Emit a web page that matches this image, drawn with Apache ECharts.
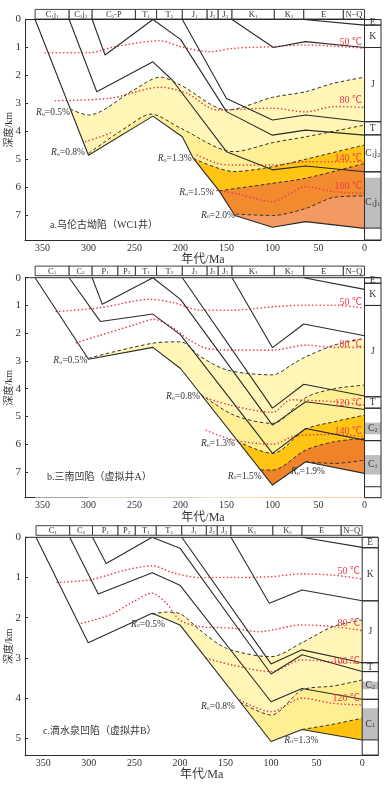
<!DOCTYPE html>
<html><head><meta charset="utf-8">
<script src="https://cdn.jsdelivr.net/npm/echarts@6/dist/echarts.min.js"></script>
<style>html,body{margin:0;padding:0;background:#fff}#c{width:388px;height:785px}</style>
</head><body><div id="c"></div>
<script>
const SERIF = "'Liberation Serif','Times New Roman','Noto Sans CJK SC',serif";
const MIX = "'Liberation Serif','Noto Sans CJK SC',serif";

// ---------- shared ticks ----------
const ageTicks = [0, 50, 100, 150, 200, 250, 300, 350];
const depthTicks8 = [0, 1, 2, 3, 4, 5, 6, 7];
const depthTicks5 = [0, 1, 2, 3, 4, 5];

// ---------- panel a : 乌伦古坳陷 WC1 ----------
const aStageNames = ['C_1j_1','C_1j_2','C_2-P','T_1','T_2','J_1','J_2','J_3','K_1','K_2','E','N−Q'];
const aStageAges = [358,321,296,249,226,198,171,159,144,98,66,23,0];
const aBurA = [[358,0],[300,4.85],[230,3.45],[198,4.19],[186,4.96],[158,6.12],[141,7.0],[100,7.42],[64,7.22],[0,7.46]];
const aBurB = [[321,0],[291,2.58],[230,1.51],[209,2.16],[150,4.72],[100,5.37],[64,5.23],[0,5.44]];
const aBurC = [[296,0],[282,1.27],[230,0]];
const aBurT = [[230,0],[200,0.71],[150,3.29],[100,4.13],[64,3.95],[0,4.13]];
const aBurJ = [[198,0],[150,2.82],[100,3.59],[64,3.41],[0,3.65]];
const aBurK = [[144,0],[99,1.0],[64,0.79],[0,1.0]];
const aBurE = [[66,0],[0,0.2]];
const aRo05 = [[320,3.2],[300,3.41],[251,2.52],[222,2.06],[200,2.34],[149,3.23],[100,2.78],[64,2.58],[34,2.28],[0,2.06]];
const aRo08 = [[300,4.78],[258,3.83],[232,3.38],[200,3.88],[142,4.72],[100,4.4],[64,4.19],[0,3.77]];
const aRo13 = [[186,4.96],[142,5.43],[100,5.26],[64,4.99],[0,4.48]];
const aRo15 = [[158,6.12],[100,5.85],[64,5.67],[0,5.14]];
const aRo20 = [[140,6.95],[100,7.0],[64,6.75],[33,6.35],[0,6.3]];
const aIso50 = [[347,1.19],[300,1.19],[271,0.97],[222,0.76],[200,0.97],[168,1.15],[143,1.03],[100,0.97],[64,0.91],[0,1.03]];
const aIso80 = [[336,2.9],[276,2.81],[222,2.42],[193,2.64],[160,3.23],[100,3.17],[64,3.3],[33,3.11],[0,3.14]];
const aIso120 = [[303,4.36],[287,4.19],[276,4.05]];
const aIso140 = [[182,4.84],[160,5.14],[142,5.2],[100,5.2],[64,5.08],[33,5.08],[0,5.08]];
const aIso160 = [[164,6.09],[142,6.2],[100,6.5],[64,5.97],[33,6.15],[0,6.2]];
const aRoLabels = ['0.5%','0.8%','1.3%','1.5%','2.0%'];
const aIsoLabels = ['50 ℃','80 ℃','140 ℃','160 ℃'];
const aColNames = ['E','K','J','T','C_1j_2','C_1j_1'];
const aColTop = [0,0.2,1.0,3.65,4.12,5.44];
const aColBot = [0.2,1.0,3.65,4.12,5.44,7.45];
const aColGrayTop = [null,null,null,null,null,5.65];
const aColGrayBot = [null,null,null,null,null,7.45];

// ---------- panel b : 三南凹陷 虚拟井A ----------
const bStageNames = ['C_1','C_2','P_1','P_2','T_1','T_2','J_1','J_2','J_3','K_1','K_2','E','N−Q'];
const bStageAges = [358,321,296,268,249,226,198,171,159,144,98,66,23,0];
const bBurA = [[358,0],[300,2.94],[230,2.51],[200,3.27],[100,7.47],[64,6.63],[0,7.05]];
const bBurB = [[321,0],[287,1.58],[230,1.31],[200,2.06],[100,6.33],[64,5.43],[0,5.85]];
const bBurC = [[296,0],[285,0.96],[230,0]];
const bBurT = [[230,0],[200,0.78],[100,5.31],[64,4.47],[0,4.75]];
const bBurJ = [[198,0],[100,4.7],[66,3.84],[0,4.26]];
const bBurK = [[144,0],[100,2.52],[66,1.67],[0,2.09]];
const bBurE = [[66,0],[0,0.42]];
const bRo05 = [[300,2.9],[230,2.36],[200,2.31],[178,2.85],[149,3.33],[100,3.5],[77,3.09],[64,2.85],[33,2.43],[0,2.18]];
const bRo08 = [[178,4.2],[142,4.95],[100,5.25],[64,4.32],[33,4.0],[0,3.87]];
const bRo13 = [[138,5.9],[100,6.33],[64,5.46],[33,5.19],[0,4.95]];
const bRo15 = [[113,6.92],[100,6.93],[64,6.21],[33,5.91],[0,5.79]];
const bRo19 = [[64,6.63],[33,6.69],[0,6.57]];
const bIso50 = [[335,1.22],[287,1.08],[233,0.78],[208,0.9],[178,1.17],[142,1.17],[100,1.05],[64,0.99],[33,0.99],[0,1.1]];
const bIso80 = [[313,2.34],[287,2.07],[251,1.71],[229,1.5],[207,1.83],[193,2.19],[171,2.55],[142,2.61],[100,2.61],[64,2.43],[33,2.51],[0,2.51]];
const bIso120 = [[175,4.3],[146,4.59],[100,4.85],[80,4.4],[33,4.47],[0,4.59]];
const bIso140 = [[172,5.5],[142,5.85],[100,6.0],[75,5.7],[33,5.65],[0,5.72]];
const bRoLabels = ['0.5%','0.8%','1.3%','1.5%','1.9%'];
const bIsoLabels = ['50 ℃','80 ℃','120 ℃','140 ℃'];
const bColNames = ['E','K','J','T','C_2','C_1'];
const bColTop = [0,0.2,1.0,4.29,4.7,5.87];
const bColBot = [0.2,1.0,4.29,4.7,5.87,7.53];
const bColGrayTop = [null,null,null,null,5.22,6.39];
const bColGrayBot = [null,null,null,null,5.64,7.09];

// ---------- panel c : 滴水泉凹陷 虚拟井B ----------
const cStageNames = bStageNames;
const cStageAges = [358,321,296,268,249,226,198,171,159,144,98,66,23,0];
const cBurA = [[358,0],[300.7,2.62],[230.5,1.89],[200,2.18],[100,5.08],[66,4.78],[0,5.04]];
const cBurB = [[321,0],[289.7,1.41],[230.5,0.88],[200,1.19],[100,4.09],[66,3.76],[0,4.03]];
const cBurC = [[296,0],[281,0.65],[230.5,0]];
const cBurT = [[230.5,0],[200,0.27],[100,3.4],[66,2.92],[0,3.34]];
const cBurJ = [[198,0],[100,3.15],[66,2.8],[0,3.12]];
const cBurK = [[144,0],[102,1.64],[66,1.31],[0,1.58]];
const cBurE = [[66,0],[0,0.25]];
const cRo05 = [[230.5,1.91],[215,1.86],[200,1.9],[178,2.31],[149,2.76],[100,2.97],[66,2.62],[32,2.22],[0,2.06]];
const cRo08 = [[134,4.1],[100,4.42],[66,3.8],[32,3.7],[0,3.55]];
const cRo13 = [[66,4.78],[32,4.65],[0,4.5]];
const cIso50 = [[335,1.12],[299,1.06],[259,0.81],[230,0.71],[208,0.88],[178,1.0],[142,1.0],[100,0.98],[66,0.91],[32,0.94],[0,1.04]];
const cIso80 = [[308,2.14],[277,1.93],[251,1.6],[231,1.39],[215,1.64],[200,2.06],[178,2.22],[142,2.26],[113,2.35],[100,2.31],[66,2.18],[32,2.22],[0,2.32]];
const cIso100 = [[171,3.01],[142,3.18],[100,3.34],[66,3.05],[32,3.1],[0,3.13]];
const cIso120 = [[134,4.05],[100,4.34],[66,4.0],[32,4.13],[0,4.17]];
const cRoLabels = ['0.5%','0.8%','1.3%'];
const cIsoLabels = ['50 ℃','80 ℃','100 ℃','120 ℃'];
const cColNames = ['E','K','J','T','C_2','C_1'];
const cColTop = [0,0.26,1.58,3.12,3.34,4.03];
const cColBot = [0.26,1.58,3.12,3.34,4.03,5.04];
const cColGrayTop = [null,null,null,null,3.59,4.25];
const cColGrayBot = [null,null,null,null,3.78,5.04];

const panelTitles = ['a.乌伦古坳陷（WC1井）','b.三南凹陷（虚拟井A）','c.滴水泉凹陷（虚拟井B）'];

// ---------- layout ----------
const P = [
  {top:19.5, h:220.5, right:7, xmin:-17.9, xmax:369.0, ymax:7.875, gap:0.5, ticks:depthTicks8, nameGap:9},
  {top:277.7, h:220, right:7, xmin:-17.9, xmax:369.0, ymax:7.925, gap:2, ticks:depthTicks8, nameGap:12},
  {top:537.3, h:217.7, right:9.7, xmin:-17.7, xmax:370.1, ymax:5.415, gap:2, ticks:depthTicks5, nameGap:14}
];
const INK = '#2b2b2b';
const RED = '#EE3A4C';

function sub(s, cls) {
  cls = cls || 'n';
  let out = '';
  for (let i = 0; i < s.length; i++) {
    if (s[i] === '_') { out += '{s|' + s[i+1] + '}'; i++; }
    else out += '{' + cls + '|' + s[i] + '}';
  }
  return out;
}
function richSet(size) {
  return {
    n: {fontSize: size, fontFamily: SERIF, fill: '#333', color: '#333'},
    i: {fontSize: size, fontFamily: SERIF, fontStyle: 'italic', fill: '#333', color: '#333'},
    s: {fontSize: Math.round(size * 0.62), fontFamily: SERIF, fill: '#333', color: '#333', verticalAlign: 'bottom'}
  };
}

const grids = [], xAxes = [], yAxes = [], series = [];
P.forEach((p, k) => {
  grids.push({left: 25, right: p.right, top: p.top, height: p.h, containLabel: false, outerBoundsMode: 'none'});
  xAxes.push({
    gridIndex: k, type: 'value', inverse: true, min: p.xmin, max: p.xmax, position: 'bottom',
    axisLine: {show: true, onZero: false, lineStyle: {color: INK, width: 1}},
    axisTick: {show: true, inside: true, length: 3, customValues: ageTicks, lineStyle: {color: INK}},
    axisLabel: {customValues: ageTicks, fontSize: 10, fontFamily: SERIF, color: '#333', margin: 3},
    splitLine: {show: false},
    name: '年代/Ma', nameLocation: 'middle', nameGap: p.nameGap,
    nameTextStyle: {fontSize: 12, fontFamily: MIX, color: '#333'}
  });
  yAxes.push({
    gridIndex: k, type: 'value', inverse: true, min: 0, max: p.ymax, position: 'left',
    axisLine: {show: true, onZero: false, lineStyle: {color: INK, width: 1}},
    axisTick: {show: true, inside: true, length: 3, customValues: p.ticks, lineStyle: {color: INK}},
    axisLabel: {customValues: p.ticks, fontSize: 11, fontFamily: SERIF, color: '#333', margin: 4},
    splitLine: {show: false},
    name: '深度/km', nameLocation: 'middle', nameGap: 11, nameRotate: 90, nameMoveOverlap: false,
    nameTextStyle: {fontSize: 10, fontFamily: MIX, color: '#333'}
  });
});

function fill(k, data, color) {
  series.push({type: 'line', xAxisIndex: k, yAxisIndex: k, data, symbol: 'none', silent: true, smooth: 0.3,
    lineStyle: {width: 0, opacity: 0}, areaStyle: {color, opacity: 1, origin: 'end'}});
}
function cover(k, data) {
  series.push({type: 'line', xAxisIndex: k, yAxisIndex: k, data, symbol: 'none', silent: true,
    lineStyle: {width: 0, opacity: 0}, areaStyle: {color: '#fff', opacity: 1, origin: 'end'}});
}
function iso(k, data) {
  series.push({type: 'line', xAxisIndex: k, yAxisIndex: k, data, symbol: 'none', silent: true, smooth: 0.3,
    lineStyle: {color: RED, width: 1.6, type: [0.1, 3.6], cap: 'round'}});
}
function ro(k, data) {
  series.push({type: 'line', xAxisIndex: k, yAxisIndex: k, data, symbol: 'none', silent: true, smooth: 0.3,
    lineStyle: {color: '#333', width: 1, type: [3.5, 2.5]}});
}
function bur(k, data) {
  series.push({type: 'line', xAxisIndex: k, yAxisIndex: k, data, symbol: 'none', silent: true,
    lineStyle: {color: INK, width: 1.1}});
}
function header(k, names, ages) {
  const p = P[k];
  series.push({type: 'custom', xAxisIndex: k, yAxisIndex: k, clip: false, silent: true, z: 5,
    data: [[0, 0]],
    renderItem: function (params, api) {
      const ch = [];
      const y0 = api.coord([0, 0])[1];
      const xl = api.coord([p.xmax, 0])[0];
      const xz = api.coord([0, 0])[0];
      ch.push({type: 'line', shape: {x1: xl, y1: y0, x2: xz, y2: y0}, style: {stroke: INK, lineWidth: 1}});
      const hh = 9.6, yb = y0 - p.gap;
      for (let i = 0; i < names.length; i++) {
        const x1 = api.coord([ages[i], 0])[0], x2 = api.coord([ages[i+1], 0])[0];
        ch.push({type: 'rect', shape: {x: x1, y: yb - hh, width: x2 - x1, height: hh},
          style: {fill: '#fff', stroke: INK, lineWidth: 0.9}});
        ch.push({type: 'text', x: (x1 + x2) / 2, y: yb - hh / 2 + 0.5,
          style: {text: sub(names[i]), rich: richSet(8.5), align: 'center', verticalAlign: 'middle',
            textAlign: 'center', textVerticalAlign: 'middle'}});
      }
      return {type: 'group', children: ch};
    }});
}
function column(k, names, tops, bots, gtops, gbots) {
  const p = P[k];
  series.push({type: 'custom', xAxisIndex: k, yAxisIndex: k, clip: false, silent: true, z: 5,
    data: [[0, 0]],
    renderItem: function (params, api) {
      const ch = [];
      const x0 = api.coord([0, 0])[0], x1 = api.coord([p.xmin, 0])[0];
      const y0 = api.coord([0, 0])[1], yb = api.coord([0, p.ymax])[1];
      ch.push({type: 'rect', shape: {x: x0, y: y0, width: x1 - x0, height: yb - y0}, style: {fill: '#fff', stroke: null}});
      for (let i = 0; i < names.length; i++) {
        if (gtops[i] != null) {
          const g1 = api.coord([0, gtops[i]])[1], g2 = api.coord([0, gbots[i]])[1];
          ch.push({type: 'rect', shape: {x: x0, y: g1, width: x1 - x0, height: g2 - g1}, style: {fill: '#BEBEBE'}});
        }
      }
      for (let i = 0; i < names.length; i++) {
        [tops[i], bots[i]].forEach(d => {
          const yy = api.coord([0, d])[1];
          ch.push({type: 'line', shape: {x1: x0, y1: yy, x2: x1, y2: yy}, style: {stroke: INK, lineWidth: 1}});
        });
        const mid = gtops[i] != null ? (gtops[i] + gbots[i]) / 2 : (tops[i] + bots[i]) / 2;
        const ym = api.coord([0, mid])[1];
        ch.push({type: 'text', x: (x0 + x1) / 2, y: ym,
          style: {text: sub(names[i]), rich: richSet(9.5), align: 'center', verticalAlign: 'middle',
            textAlign: 'center', textVerticalAlign: 'middle'}});
      }
      ch.push({type: 'rect', shape: {x: x0, y: y0, width: x1 - x0, height: yb - y0}, style: {fill: null, stroke: INK, lineWidth: 1}});
      return {type: 'group', children: ch};
    }});
}

// panel a
[[aRo05,'#FFF6B8'],[aRo08,'#FFEF94'],[aRo13,'#FFC414'],[aRo15,'#F28A30'],[aRo20,'#F29A62']].forEach(d => fill(0, d[0], d[1]));
cover(0, aBurA);
[aIso50, aIso80, aIso120, aIso140, aIso160].forEach(d => iso(0, d));
[aRo05, aRo08, aRo13, aRo15, aRo20].forEach(d => ro(0, d));
[aBurA, aBurB, aBurC, aBurT, aBurJ, aBurK, aBurE].forEach(d => bur(0, d));
header(0, aStageNames, aStageAges);
column(0, aColNames, aColTop, aColBot, aColGrayTop, aColGrayBot);

// panel b
[[bRo05,'#FFF6B8'],[bRo08,'#FFEF94'],[bRo13,'#FFC414'],[bRo15,'#F08228'],[bRo19,'#F08A3A']].forEach(d => fill(1, d[0], d[1]));
cover(1, bBurA);
[bIso50, bIso80, bIso120, bIso140].forEach(d => iso(1, d));
[bRo05, bRo08, bRo13, bRo15, bRo19].forEach(d => ro(1, d));
[bBurA, bBurB, bBurC, bBurT, bBurJ, bBurK, bBurE].forEach(d => bur(1, d));
header(1, bStageNames, bStageAges);
column(1, bColNames, bColTop, bColBot, bColGrayTop, bColGrayBot);

// panel c
[[cRo05,'#FFF6B8'],[cRo08,'#FFEF94'],[cRo13,'#FFC20E']].forEach(d => fill(2, d[0], d[1]));
cover(2, cBurA);
[cIso50, cIso80, cIso100, cIso120].forEach(d => iso(2, d));
[cRo05, cRo08, cRo13].forEach(d => ro(2, d));
[cBurA, cBurB, cBurC, cBurT, cBurJ, cBurK, cBurE].forEach(d => bur(2, d));
header(2, cStageNames, cStageAges);
column(2, cColNames, cColTop, cColBot, cColGrayTop, cColGrayBot);

// ---------- annotation texts (pixel placement) ----------
const roPos = [
  [[70,112.7],[85,152.3],[191.7,158.3],[213.3,192.7],[235,215]],
  [[87.3,360.7],[200,396.7],[235,443.3],[261.7,476],[325,471.7]],
  [[165,624],[235,706.7],[318.3,740]]
];
const isoPos = [
  [[362,42.7],[362,100],[362,158.3],[362,186.7]],
  [[362,302.7],[362,344],[362,403.3],[362,431.7]],
  [[360,571.7],[360,623.3],[360,661],[360,698.3]]
];
const titlePos = [[50,225],[47,477],[43,731.7]];
const roLab = [aRoLabels, bRoLabels, cRoLabels];
const isoLab = [aIsoLabels, bIsoLabels, cIsoLabels];
const graphics = [];
for (let k = 0; k < 3; k++) {
  roLab[k].forEach((t, i) => {
    graphics.push({type: 'text', x: roPos[k][i][0], y: roPos[k][i][1], z: 100,
      style: {text: '{i|R}{s|o}{n|=' + t + '}', rich: richSet(9.5), align: 'right', verticalAlign: 'middle',
        textAlign: 'right', textVerticalAlign: 'middle'}});
  });
  isoLab[k].forEach((t, i) => {
    graphics.push({type: 'text', x: isoPos[k][i][0], y: isoPos[k][i][1], z: 100,
      style: {text: t, fill: RED, font: '10px ' + MIX, align: 'right', verticalAlign: 'middle',
        textAlign: 'right', textVerticalAlign: 'middle'}});
  });
  graphics.push({type: 'text', x: titlePos[k][0], y: titlePos[k][1], z: 100,
    style: {text: panelTitles[k], fill: '#333', font: '10px ' + MIX, align: 'left', verticalAlign: 'middle',
      textAlign: 'left', textVerticalAlign: 'middle'}});
}

const chart = echarts.init(document.getElementById('c'), null, {renderer: 'canvas'});
chart.setOption({
  animation: false,
  backgroundColor: '#fff',
  grid: grids, xAxis: xAxes, yAxis: yAxes, series: series, graphic: graphics
});
</script></body></html>
